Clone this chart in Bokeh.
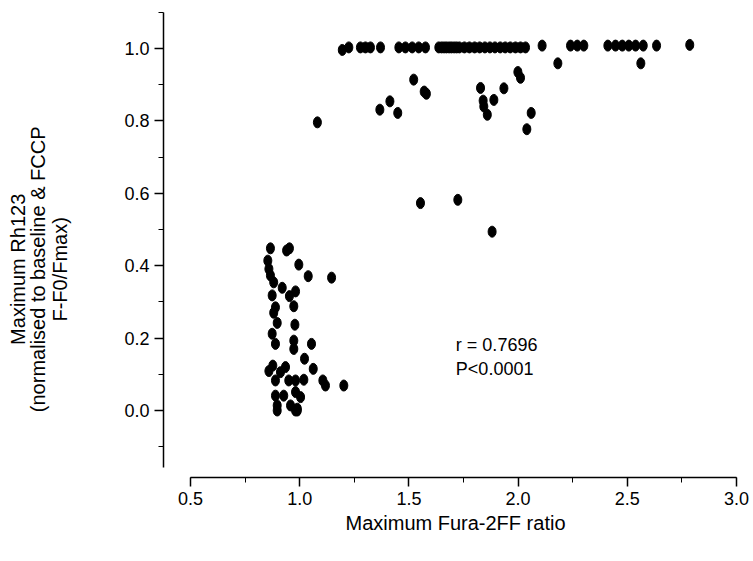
from bokeh.plotting import figure
from bokeh.models import Range1d, SingleIntervalTicker, Label, NumeralTickFormatter
from bokeh.embed import file_html
from bokeh.resources import INLINE
import math

# Plateau group (Rh123 ~ 1.0)
plateau_x = [1.195, 1.225, 1.278, 1.301, 1.324, 1.370, 1.454, 1.484, 1.515, 1.545,
             1.576, 1.637, 1.650, 1.661, 1.672, 1.684, 1.695, 1.707, 1.719, 1.731,
             1.754, 1.777, 1.801, 1.824, 1.848, 1.871, 1.894, 1.918, 1.941, 1.964,
             1.988, 2.011, 2.034, 2.110, 2.240, 2.271, 2.301, 2.411, 2.446, 2.477,
             2.507, 2.538, 2.573, 2.634, 2.786]
plateau_y = [0.996, 1.003, 1.003, 1.003, 1.003, 1.003, 1.003, 1.003, 1.003, 1.003,
             1.003, 1.003, 1.003, 1.003, 1.003, 1.003, 1.003, 1.003, 1.003, 1.003,
             1.003, 1.003, 1.003, 1.003, 1.003, 1.003, 1.003, 1.003, 1.003, 1.003,
             1.003, 1.003, 1.003, 1.008, 1.008, 1.008, 1.008, 1.008, 1.008, 1.008,
             1.008, 1.008, 1.008, 1.008, 1.010]

# Intermediate group
mid_x = [1.081, 1.367, 1.413, 1.449, 1.522, 1.570, 1.580, 1.828, 1.840, 1.843,
         1.859, 1.889, 1.935, 1.999, 2.011, 2.040, 2.060, 2.182, 2.562, 1.553,
         1.724, 1.881]
mid_y = [0.796, 0.831, 0.854, 0.822, 0.914, 0.881, 0.875, 0.891, 0.856, 0.840,
         0.817, 0.858, 0.890, 0.935, 0.919, 0.777, 0.822, 0.959, 0.959, 0.573,
         0.582, 0.494]

# Low cluster
low_x = [0.866, 0.940, 0.953, 0.854, 0.996, 0.859, 0.866, 1.039, 1.146, 0.881,
         0.920, 0.874, 0.981, 0.953, 0.889, 0.881, 0.973, 0.897, 0.978, 0.874,
         0.889, 0.973, 0.973, 1.054, 1.022, 1.062, 0.877, 0.859, 0.935, 0.912,
         0.889, 0.950, 0.981, 1.019, 1.106, 1.118, 1.202, 0.889, 0.927, 0.981,
         1.004, 0.897, 0.958, 0.989, 0.897, 0.981, 0.989]
low_y = [0.448, 0.442, 0.448, 0.414, 0.403, 0.391, 0.373, 0.371, 0.367, 0.354,
         0.339, 0.318, 0.329, 0.316, 0.285, 0.270, 0.288, 0.242, 0.237, 0.212,
         0.184, 0.193, 0.170, 0.184, 0.143, 0.115, 0.124, 0.109, 0.120, 0.106,
         0.083, 0.083, 0.083, 0.085, 0.083, 0.069, 0.069, 0.041, 0.041, 0.051,
         0.037, 0.014, 0.014, 0.005, 0.000, 0.000, 0.000]

stat_lines = ["r = 0.7696", "P<0.0001"]
x_title = "Maximum Fura-2FF ratio"
y_title_lines = ["Maximum Rh123", "(normalised to baseline & FCCP", "F-F0/Fmax)"]

FONT = "Liberation Sans"
TICK_FS = "18px"
TITLE_FS = "20px"

# the frame fills the whole canvas; both axes are detached (fixed location)
p = figure(width=752, height=560, output_backend="svg", toolbar_location=None,
           x_range=Range1d(-0.36996, 3.07326), y_range=Range1d(-0.41436, 1.13260),
           min_border=0)
p.outline_line_color = None
p.grid.visible = False
p.background_fill_color = "white"
p.border_fill_color = "white"

for xs, ys in ((plateau_x, plateau_y), (mid_x, mid_y), (low_x, low_y)):
    p.ellipse(x=xs, y=ys, width=8, height=11, width_units="screen",
              height_units="screen", fill_color="black", line_color="black")

xa = p.xaxis[0]
xa.fixed_location = -0.18508
xa.bounds = (0.5, 3.0)
xa.ticker = SingleIntervalTicker(interval=0.5, num_minor_ticks=2)
xa.formatter = NumeralTickFormatter(format="0.0")

ya = p.yaxis[0]
ya.fixed_location = 0.37637
ya.bounds = (-0.157, 1.1)
ya.ticker = SingleIntervalTicker(interval=0.2, num_minor_ticks=2)
ya.formatter = NumeralTickFormatter(format="0.0")

for ax in (xa, ya):
    ax.axis_line_color = "black"
    ax.axis_line_width = 1.5
    ax.major_tick_line_color = "black"
    ax.minor_tick_line_color = "black"
    ax.major_tick_line_width = 1.5
    ax.major_tick_in = 0
    ax.major_tick_out = 9
    ax.minor_tick_in = 0
    ax.minor_tick_out = 5
    ax.major_label_text_font = FONT
    ax.major_label_text_font_size = TICK_FS
    ax.major_label_text_color = "black"
    ax.major_label_standoff = 5

# axis titles
p.add_layout(Label(x=1.7134, y=-0.3094, text=x_title, text_align="center",
                   text_baseline="middle", text_font=FONT,
                   text_font_size=TITLE_FS, text_color="black"))
title_x = [-0.2921, -0.1960, -0.0998]
for tx, line in zip(title_x, y_title_lines):
    p.add_layout(Label(x=tx, y=0.39, text=line, angle=math.pi / 2,
                       text_align="center", text_baseline="middle",
                       text_font=FONT, text_font_size=TITLE_FS, text_color="black"))

p.add_layout(Label(x=1.715, y=0.18, text=stat_lines[0], text_baseline="middle",
                   text_font=FONT, text_font_size=TICK_FS, text_color="black"))
p.add_layout(Label(x=1.715, y=0.116, text=stat_lines[1], text_baseline="middle",
                   text_font=FONT, text_font_size=TICK_FS, text_color="black"))

open("out.html", "w").write(file_html(p, INLINE))
